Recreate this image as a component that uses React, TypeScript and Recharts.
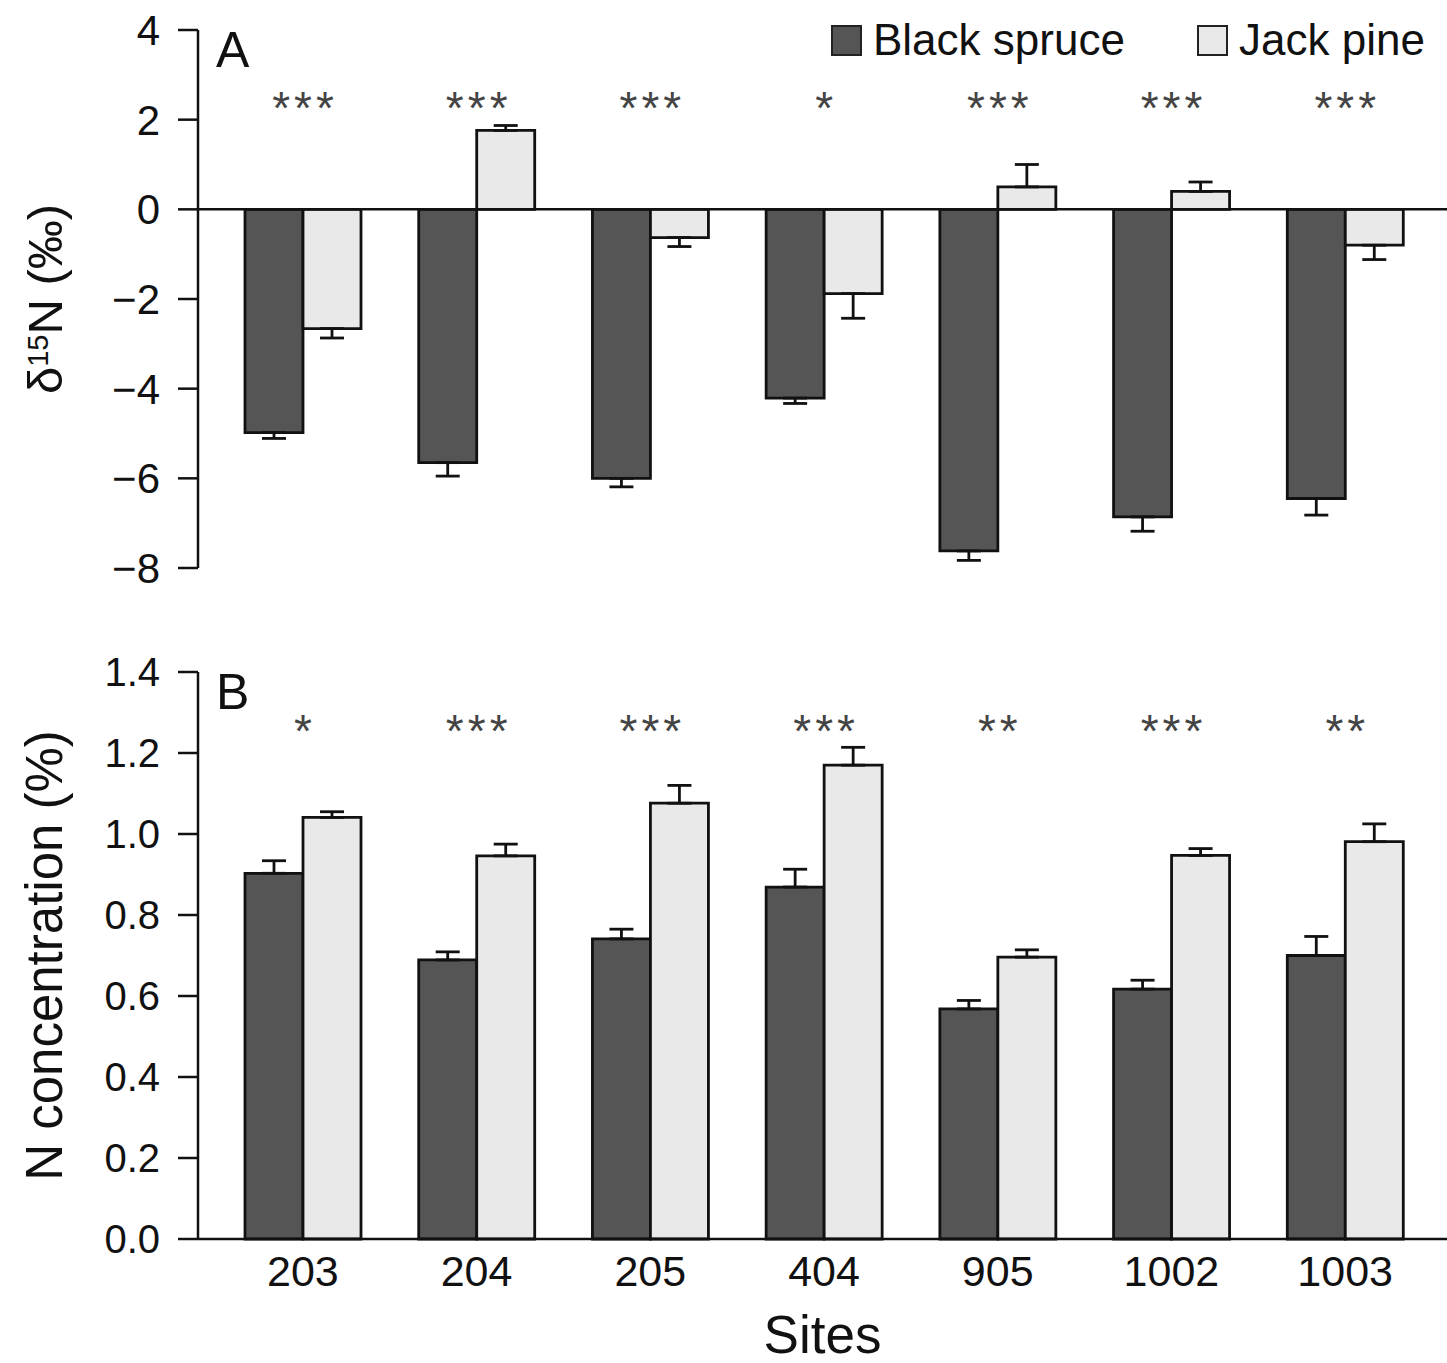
import React from "react";
import {
  ComposedChart,
  Bar,
  XAxis,
  YAxis,
  ErrorBar,
  ReferenceLine,
  LabelList,
  Legend,
  Label,
} from "recharts";

const FONT = '"Liberation Sans", Arial, Helvetica, sans-serif';
const SPRUCE = "#555555";
const PINE = "#e9e9e9";
const INK = "#111111";

// sites on the x axis
const sites = ["203", "204", "205", "404", "905", "1002", "1003"];

// panel A: delta 15N (per mil), mean and SE
const d15nSpruce = [-4.98, -5.65, -6.0, -4.21, -7.62, -6.86, -6.45];
const d15nSpruceSe = [0.13, 0.3, 0.19, 0.12, 0.21, 0.32, 0.37];
const d15nPine = [-2.66, 1.76, -0.63, -1.88, 0.5, 0.4, -0.8];
const d15nPineSe = [0.21, 0.11, 0.2, 0.55, 0.5, 0.21, 0.32];
const sigA = ["***", "***", "***", "*", "***", "***", "***"];

// panel B: N concentration (%), mean and SE
const nSpruce = [0.903, 0.689, 0.741, 0.869, 0.568, 0.617, 0.7];
const nSpruceSe = [0.031, 0.02, 0.024, 0.044, 0.021, 0.022, 0.047];
const nPine = [1.041, 0.946, 1.076, 1.17, 0.696, 0.947, 0.981];
const nPineSe = [0.014, 0.029, 0.044, 0.044, 0.018, 0.017, 0.044];
const sigB = ["*", "***", "***", "***", "**", "***", "**"];

const ticksA = [-8, -6, -4, -2, 0, 2, 4];
const ticksB = [0, 0.2, 0.4, 0.6, 0.8, 1.0, 1.2, 1.4];

// error bars only point away from zero
const oneSided = (v: number, se: number) => (v < 0 ? [se, 0] : [0, se]);

const dataA = sites.map((site, i) => ({
  site,
  spruce: d15nSpruce[i],
  spruceErr: oneSided(d15nSpruce[i], d15nSpruceSe[i]),
  pine: d15nPine[i],
  pineErr: oneSided(d15nPine[i], d15nPineSe[i]),
  sig: sigA[i],
}));

const dataB = sites.map((site, i) => ({
  site,
  spruce: nSpruce[i],
  spruceErr: oneSided(nSpruce[i], nSpruceSe[i]),
  pine: nPine[i],
  pineErr: oneSided(nPine[i], nPineSe[i]),
  sig: sigB[i],
}));

const minus = (v: number) => (v < 0 ? `\u2212${Math.abs(v)}` : `${v}`);

function starLabel(baseline: number) {
  return (props: any) => {
    const { x, width, value } = props;
    return (
      <text
        x={Number(x) + Number(width) + 2}
        y={baseline}
        textAnchor="middle"
        fontSize={46}
        letterSpacing={4}
        fill="#444"
        fontFamily={FONT}
      >
        {value}
      </text>
    );
  };
}

function AxisTitle({ viewBox, letter, children, size }: any) {
  const { x, y, width, height } = viewBox;
  const cx = x + 62;
  const cy = y + height / 2;
  return (
    <g fontFamily={FONT} fill={INK}>
      <text
        x={cx}
        y={cy}
        transform={`rotate(-90 ${cx} ${cy})`}
        textAnchor="middle"
        fontSize={size}
      >
        {children}
      </text>
      <text x={x + width + 18} y={y + 37} fontSize={50}>
        {letter}
      </text>
    </g>
  );
}

const renderLegend = () => {
  const items = [
    { label: "Black spruce", fill: SPRUCE },
    { label: "Jack pine", fill: PINE },
  ];
  return (
    <div style={{ display: "flex", alignItems: "center", fontFamily: FONT, fontSize: 44, lineHeight: 1, color: INK }}>
      {items.map((it, i) => (
        <div key={it.label} style={{ display: "flex", alignItems: "center", width: i === 0 ? 366 : "auto" }}>
          <div
            style={{
              width: 31,
              height: 31,
              boxSizing: "border-box",
              border: "2.5px solid #222",
              background: it.fill,
              marginRight: 11,
            }}
          />
          <span style={{ whiteSpace: "nowrap" }}>{it.label}</span>
        </div>
      ))}
    </div>
  );
};

const axisProps = {
  stroke: INK,
  strokeWidth: 2.5,
};

export default function App() {
  return (
    <div style={{ position: "absolute", left: 0, top: 0, width: 1447, height: 1363, background: "#fff", overflow: "hidden" }}>
      <ComposedChart
        width={1447}
        height={610}
        data={dataA}
        margin={{ top: 30, right: 0, bottom: 42, left: 0 }}
        barGap={0}
      >
        <XAxis dataKey="site" hide padding={{ left: 18, right: 15 }} />
        <YAxis
          width={198}
          domain={[-8, 4]}
          ticks={ticksA}
          tickFormatter={minus}
          axisLine={axisProps}
          tickLine={axisProps}
          tickSize={20}
          tickMargin={18}
          tick={{ fontSize: 42, fill: INK, fontFamily: FONT }}
        >
          <Label
            content={(p: any) => (
              <AxisTitle viewBox={p.viewBox} letter="A" size={49}>
                {"\u03b4"}
                <tspan fontSize={29} dy={-14}>15</tspan>
                <tspan dy={14}>{"N (\u2030)"}</tspan>
              </AxisTitle>
            )}
          />
        </YAxis>
        <ReferenceLine y={0} stroke={INK} strokeWidth={2.5} />
        <Legend layout="horizontal" verticalAlign="middle" align="center" content={renderLegend} wrapperStyle={{ position: "absolute", left: 831, top: 18, width: "auto" }} />
        <Bar dataKey="spruce" name="Black spruce" fill={SPRUCE} stroke={INK} strokeWidth={2.8} barSize={58} isAnimationActive={false}>
          <ErrorBar dataKey="spruceErr" direction="y" width={12} stroke={INK} strokeWidth={2.8} isAnimationActive={false} />
          <LabelList dataKey="sig" content={starLabel(124)} />
        </Bar>
        <Bar dataKey="pine" name="Jack pine" fill={PINE} stroke={INK} strokeWidth={2.8} barSize={58} isAnimationActive={false}>
          <ErrorBar dataKey="pineErr" direction="y" width={12} stroke={INK} strokeWidth={2.8} isAnimationActive={false} />
        </Bar>
      </ComposedChart>

      <ComposedChart
        width={1447}
        height={753}
        data={dataB}
        margin={{ top: 62, right: 0, bottom: 0, left: 0 }}
        barGap={0}
      >
        <XAxis
          dataKey="site"
          height={124}
          padding={{ left: 18, right: 15 }}
          axisLine={axisProps}
          tickLine={false}
          tickSize={0}
          tickMargin={16}
          tick={{ fontSize: 43, fill: INK, fontFamily: FONT }}
        >
          <Label value="Sites" position="insideBottom" offset={10} fontSize={53} fill={INK} fontFamily={FONT} />
        </XAxis>
        <YAxis
          width={198}
          domain={[0, 1.4]}
          ticks={ticksB}
          tickFormatter={(v: number) => v.toFixed(1)}
          axisLine={axisProps}
          tickLine={axisProps}
          tickSize={20}
          tickMargin={18}
          tick={{ fontSize: 40, fill: INK, fontFamily: FONT }}
        >
          <Label
            content={(p: any) => (
              <AxisTitle viewBox={p.viewBox} letter="B" size={51}>
                N concentration (%)
              </AxisTitle>
            )}
          />
        </YAxis>
        <Bar dataKey="spruce" name="Black spruce" fill={SPRUCE} stroke={INK} strokeWidth={2.8} barSize={58} isAnimationActive={false}>
          <ErrorBar dataKey="spruceErr" direction="y" width={12} stroke={INK} strokeWidth={2.8} isAnimationActive={false} />
          <LabelList dataKey="sig" content={starLabel(137)} />
        </Bar>
        <Bar dataKey="pine" name="Jack pine" fill={PINE} stroke={INK} strokeWidth={2.8} barSize={58} isAnimationActive={false}>
          <ErrorBar dataKey="pineErr" direction="y" width={12} stroke={INK} strokeWidth={2.8} isAnimationActive={false} />
        </Bar>
      </ComposedChart>
    </div>
  );
}
